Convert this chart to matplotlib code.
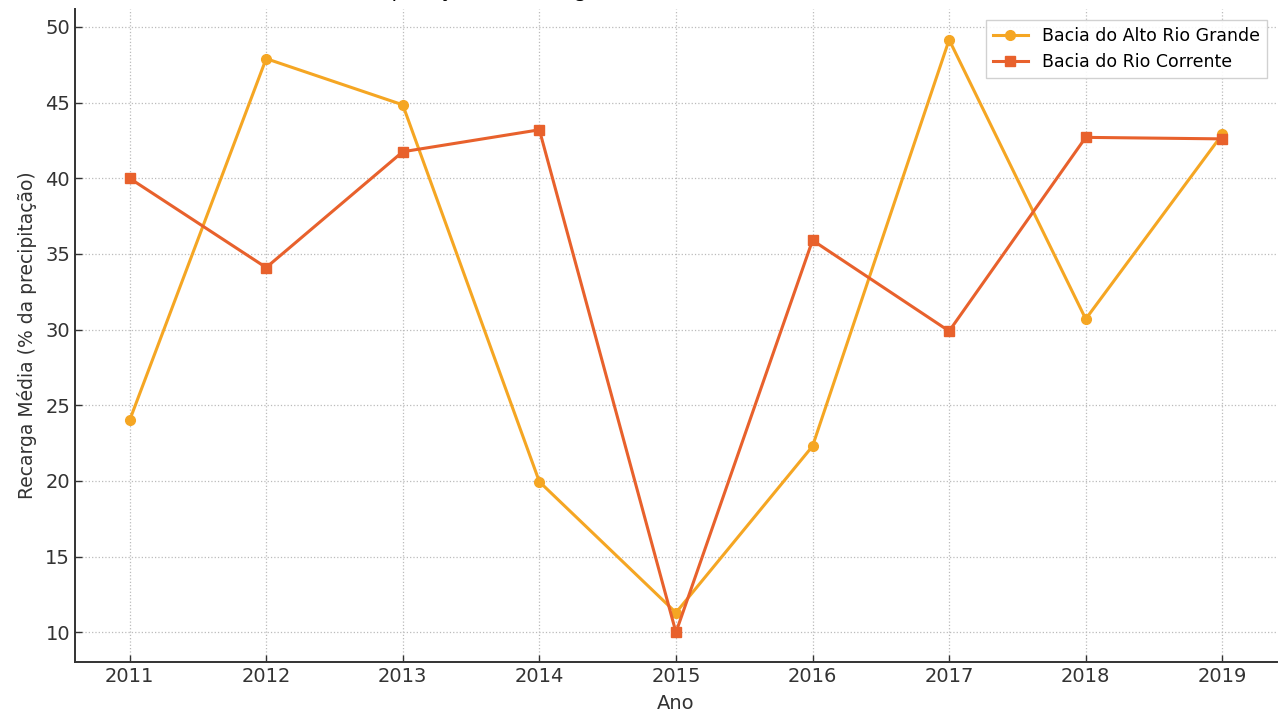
import matplotlib.pyplot as plt

# Data
anos = [2011, 2012, 2013, 2014, 2015, 2016, 2017, 2018, 2019]
alto_rio_grande = [24.0, 47.9, 44.85, 19.95, 11.3, 22.3, 49.15, 30.7, 42.9]
rio_corrente = [40.0, 34.1, 41.75, 43.2, 10.0, 35.9, 29.9, 42.7, 42.6]

fig = plt.figure(figsize=(12.79, 7.16), dpi=100)
ax = fig.add_axes([0.0586, 0.0754, 0.9398, 0.9116])

ax.plot(anos, alto_rio_grande, marker='o', markersize=7, linewidth=2.2,
        color='#F5A623', label='Bacia do Alto Rio Grande')
ax.plot(anos, rio_corrente, marker='s', markersize=7, linewidth=2.2,
        color='#E8612C', label='Bacia do Rio Corrente')

ax.set_xticks(anos)
ax.set_yticks([10, 15, 20, 25, 30, 35, 40, 45, 50])
ax.set_xlim(2010.6, 2019.4)
ax.set_ylim(8.04, 51.16)

ax.tick_params(direction='in', labelsize=14, length=5, width=1, colors='#333333')
ax.set_xlabel('Ano', fontsize=14, color='#333333', labelpad=6)
ax.set_ylabel('Recarga Média (% da precipitação)', fontsize=13.5, color='#333333', labelpad=6)
# title sits mostly above the visible area, as in the cropped reference
ax.set_title('Comparação da Recarga Média Anual entre Bacias (2011-2019)', fontsize=15, pad=9)

ax.grid(True, linestyle=':', color='#bbbbbb', linewidth=0.9)
for side in ['top', 'right']:
    ax.spines[side].set_visible(False)
for side in ['left', 'bottom']:
    ax.spines[side].set_color('#333333')
    ax.spines[side].set_linewidth(1.4)

ax.legend(loc='upper right', fontsize=12.5, framealpha=0.9, edgecolor='#cccccc',
          fancybox=False, borderaxespad=0.6)

fig.savefig('out.png', dpi=100)
